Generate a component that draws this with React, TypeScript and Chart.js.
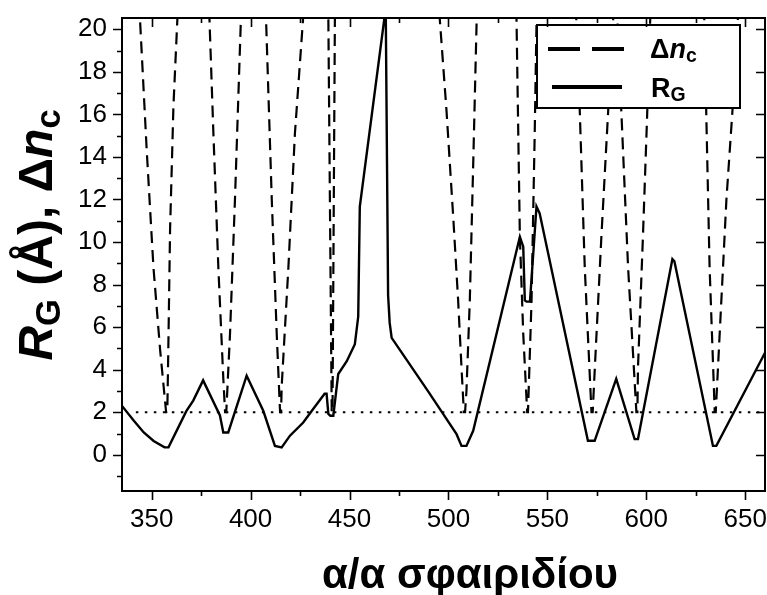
import React, { useEffect, useRef } from 'react';
import { Chart, registerables } from 'chart.js';

Chart.register(...registerables);

const FAMILY = "'Liberation Sans', Arial, Helvetica, sans-serif";

const X_MIN = 335;
const X_MAX = 660;
const Y_MIN = -1.7;
const Y_MAX = 20.53;

const X_TICKS = [350, 400, 450, 500, 550, 600, 650];
const X_MINOR = [375, 425, 475, 525, 575, 625];
const Y_TICKS = [0, 2, 4, 6, 8, 10, 12, 14, 16, 18, 20];
const Y_MINOR = [-1, 1, 3, 5, 7, 9, 11, 13, 15, 17, 19];

// R_G (solid line)
const RG_X = [
  335, 341, 346, 351, 356.5, 358.5, 367.5, 371, 376, 384.5, 386.2, 388.7, 398, 406.4, 412.3, 415.7,
  419.9, 426.6, 432, 437.4, 438.4, 439.3, 440.3, 441.8, 444.3, 448.6, 452.7, 454.4, 455.2, 468.3,
  469.5, 470.3, 471.3, 490, 504.1, 506.6, 509.1, 512.5, 536.1, 537.8, 538.6, 539.5, 541.2, 544.5,
  546.1, 570.5, 573.9, 584.8, 594.1, 595.8, 613.2, 614.2, 633.7, 635.4, 660,
];
const RG_Y = [
  2.3, 1.6, 1.05, 0.65, 0.35, 0.35, 2.05, 2.55, 3.5, 1.85, 1.05, 1.05, 3.72, 2.07, 0.42, 0.35,
  0.9, 1.52, 2.2, 2.87, 2.87, 1.92, 1.84, 1.84, 3.8, 4.4, 5.2, 6.5, 11.67, 21,
  7.5, 6.2, 5.5, 2.95, 0.97, 0.42, 0.42, 1.13, 10.25, 9.78, 7.26, 7.2, 7.2, 11.67,
  11.35, 0.66, 0.66, 3.57, 0.74, 0.74, 9.2, 9.1, 0.42, 0.42, 4.8,
];

// Δn_c (dashed line)
const DN_X = [
  342.7, 344.3, 347.5, 350.9, 354.3, 357.3, 357.9, 358.4, 359.3, 361, 363, 364.2,
  378.3, 379.2, 381.2, 383.7, 386.2, 387.1, 387.7, 389.6, 392.1, 395, 396,
  407, 407.8, 410.7, 413.2, 414.9, 415.4, 415.7, 419.1, 422.4, 426.3, 428.4,
  439.1, 439.3, 441.0, 441.4, 442.6, 442.8,
  493.6, 495.6, 499, 502.4, 504.9, 506.6, 507.8, 508.4, 509.1, 510.8, 512.5, 514.2, 514.9,
  534, 534.4, 536.1, 537.8, 539.8, 540.2, 542, 543.6, 544.5, 545,
  564, 564.6, 566.4, 568.9, 572.3, 572.9, 574, 577.3, 580.7, 583.3, 584.7,
  584.2, 585.4, 587.4, 590.8, 595, 595.5, 595.8, 598.3, 600.3, 602, 603,
  628.7, 629.3, 630.3, 632, 634.6, 635.1, 637.1, 640.5, 643.5, 646.3, 647.8,
];
const DN_Y = [
  23, 20.1, 14.3, 8.8, 4.9, 2, 2, 4.9, 10.6, 16.4, 20.5, 23,
  23, 20.5, 15.1, 8.8, 3.6, 2, 2, 5.7, 12, 20.2, 23,
  23, 20.5, 12, 5.7, 2, 2, 3.2, 8.8, 15.1, 20.2, 23,
  23, 20.5, 2, 2, 20.5, 23,
  23, 20.5, 16.2, 11.2, 7.26, 4.1, 2, 2, 3, 7.26, 13.6, 20.2, 23,
  23, 20.5, 10.25, 5.7, 2, 2, 7.26, 15.1, 20.2, 23,
  23, 20.5, 16.1, 8.8, 2, 2, 4.1, 10.25, 16.1, 20.5, 23,
  23, 20.5, 16.1, 8.8, 2, 2, 4.1, 10.25, 15.6, 20.5, 23,
  23, 20.5, 16.1, 8.8, 2, 2, 5.7, 12, 16.1, 20.5, 23,
];

// threshold (dotted line)
const TH_X = [342, 660];
const TH_Y = [2, 2];

type Seg = { t: string; italic?: boolean; sub?: boolean };

const Y_TITLE: Seg[] = [
  { t: 'R', italic: true },
  { t: 'G', sub: true },
  { t: ' (Å), Δ' },
  { t: 'n', italic: true },
  { t: 'c', sub: true },
];
const X_TITLE = 'α/α σφαιριδίου';
const LEG_DN: Seg[] = [{ t: 'Δ' }, { t: 'n', italic: true }, { t: 'c', sub: true }];
const LEG_RG: Seg[] = [{ t: 'R' }, { t: 'G', sub: true }];

function segFont(s: Seg, size: number) {
  const sz = s.sub ? size * 0.72 : size;
  return `${s.italic ? 'italic ' : ''}bold ${sz}px ${FAMILY}`;
}

function richWidth(ctx: CanvasRenderingContext2D, segs: Seg[], size: number) {
  let w = 0;
  for (const s of segs) {
    ctx.font = segFont(s, size);
    w += ctx.measureText(s.t).width;
  }
  return w;
}

function drawRich(ctx: CanvasRenderingContext2D, segs: Seg[], x: number, y: number, size: number) {
  let cx = x;
  ctx.textBaseline = 'alphabetic';
  ctx.textAlign = 'left';
  for (const s of segs) {
    ctx.font = segFont(s, size);
    ctx.fillText(s.t, cx, s.sub ? y + size * 0.16 : y);
    cx += ctx.measureText(s.t).width;
  }
}

const decorPlugin = {
  id: 'decor',
  afterDatasetsDraw(chart: any) {
    const { ctx } = chart;
    ctx.save();
    const lx = 537, ly = 25, lw = 203, lh = 83;
    ctx.fillStyle = '#fff';
    ctx.fillRect(lx, ly, lw, lh);
    ctx.strokeStyle = '#000';
    ctx.lineWidth = 2;
    ctx.strokeRect(lx, ly, lw, lh);
    ctx.lineWidth = 4;
    ctx.setLineDash([32, 12]);
    ctx.beginPath();
    ctx.moveTo(548, 49);
    ctx.lineTo(624, 49);
    ctx.stroke();
    ctx.setLineDash([]);
    ctx.beginPath();
    ctx.moveTo(552, 87);
    ctx.lineTo(622, 87);
    ctx.stroke();
    ctx.fillStyle = '#000';
    drawRich(ctx, LEG_DN, 650, 58, 27);
    drawRich(ctx, LEG_RG, 651, 97, 27);
    ctx.restore();
  },
  afterDraw(chart: any) {
    const { ctx, chartArea: a, scales } = chart;
    const xs = scales.x;
    const ys = scales.y;
    ctx.save();
    ctx.strokeStyle = '#000';
    ctx.lineWidth = 2;
    ctx.strokeRect(a.left, a.top, a.right - a.left, a.bottom - a.top);
    ctx.lineWidth = 1.6;
    ctx.beginPath();
    const MAJ = 9, MIN = 5;
    for (const v of X_TICKS) {
      const p = Math.round(xs.getPixelForValue(v)) + 0.5;
      ctx.moveTo(p, a.bottom); ctx.lineTo(p, a.bottom + MAJ);
      ctx.moveTo(p, a.top); ctx.lineTo(p, a.top + MAJ);
    }
    for (const v of X_MINOR) {
      const p = Math.round(xs.getPixelForValue(v)) + 0.5;
      ctx.moveTo(p, a.bottom); ctx.lineTo(p, a.bottom + MIN);
      ctx.moveTo(p, a.top); ctx.lineTo(p, a.top + MIN);
    }
    for (const v of Y_TICKS) {
      const p = Math.round(ys.getPixelForValue(v)) + 0.5;
      ctx.moveTo(a.left, p); ctx.lineTo(a.left - MAJ, p);
      ctx.moveTo(a.right, p); ctx.lineTo(a.right - MAJ, p);
    }
    for (const v of Y_MINOR) {
      const p = Math.round(ys.getPixelForValue(v)) + 0.5;
      ctx.moveTo(a.left, p); ctx.lineTo(a.left - MIN, p);
    }
    ctx.stroke();

    ctx.fillStyle = '#000';
    ctx.font = `bold 42px ${FAMILY}`;
    ctx.textAlign = 'center';
    ctx.textBaseline = 'alphabetic';
    ctx.fillText(X_TITLE, 470, 588);

    const size = 48;
    const w = richWidth(ctx, Y_TITLE, size);
    ctx.translate(52, 235);
    ctx.rotate(-Math.PI / 2);
    drawRich(ctx, Y_TITLE, -w / 2, 0, size);
    ctx.restore();
  },
};

function pts(xs: number[], ys: number[]) {
  return xs.map((x, i) => ({ x, y: ys[i] }));
}

export default function App() {
  const ref = useRef<HTMLCanvasElement | null>(null);
  useEffect(() => {
    if (!ref.current) return;
    const chart = new Chart(ref.current, {
      type: 'line',
      data: {
        datasets: [
          {
            label: 'Δn_c',
            data: pts(DN_X, DN_Y),
            borderColor: '#000',
            borderWidth: 2.2,
            borderDash: [12, 7],
            pointRadius: 0,
            tension: 0,
          },
          {
            label: 'threshold',
            data: pts(TH_X, TH_Y),
            borderColor: '#000',
            borderWidth: 2,
            borderDash: [2.5, 6.5],
            pointRadius: 0,
            tension: 0,
          },
          {
            label: 'R_G',
            data: pts(RG_X, RG_Y),
            borderColor: '#000',
            borderWidth: 2.4,
            pointRadius: 0,
            tension: 0,
          },
        ],
      },
      options: {
        responsive: false,
        animation: false,
        layout: { padding: { top: 18, right: 2, left: 0, bottom: 0 } },
        plugins: {
          legend: { display: false },
          tooltip: { enabled: false },
        },
        scales: {
          x: {
            type: 'linear',
            min: X_MIN,
            max: X_MAX,
            grid: { display: false, drawTicks: false, tickLength: 0 },
            border: { display: false },
            afterBuildTicks: (s: any) => {
              s.ticks = X_TICKS.map((v) => ({ value: v }));
            },
            afterFit: (s: any) => {
              s.height = 104;
              s.paddingLeft = 0;
              s.paddingRight = 0;
            },
            ticks: {
              autoSkip: false,
              maxRotation: 0,
              minRotation: 0,
              padding: 13,
              color: '#000',
              font: { family: FAMILY, size: 26 },
              callback: (v: any) => String(v),
            },
          },
          y: {
            type: 'linear',
            min: Y_MIN,
            max: Y_MAX,
            grid: { display: false, drawTicks: false, tickLength: 0 },
            border: { display: false },
            afterBuildTicks: (s: any) => {
              s.ticks = Y_TICKS.map((v) => ({ value: v }));
            },
            afterFit: (s: any) => {
              s.width = 122;
              s.paddingTop = 0;
              s.paddingBottom = 0;
            },
            ticks: {
              autoSkip: false,
              padding: 15,
              color: '#000',
              font: { family: FAMILY, size: 26 },
              callback: (v: any) => String(v),
            },
          },
        },
      },
      plugins: [decorPlugin],
    } as any);
    return () => chart.destroy();
  }, []);
  return (
    <div style={{ position: 'absolute', left: 0, top: 0, width: 767, height: 595, background: '#fff' }}>
      <canvas ref={ref} width={767} height={595} style={{ display: 'block' }} />
    </div>
  );
}
